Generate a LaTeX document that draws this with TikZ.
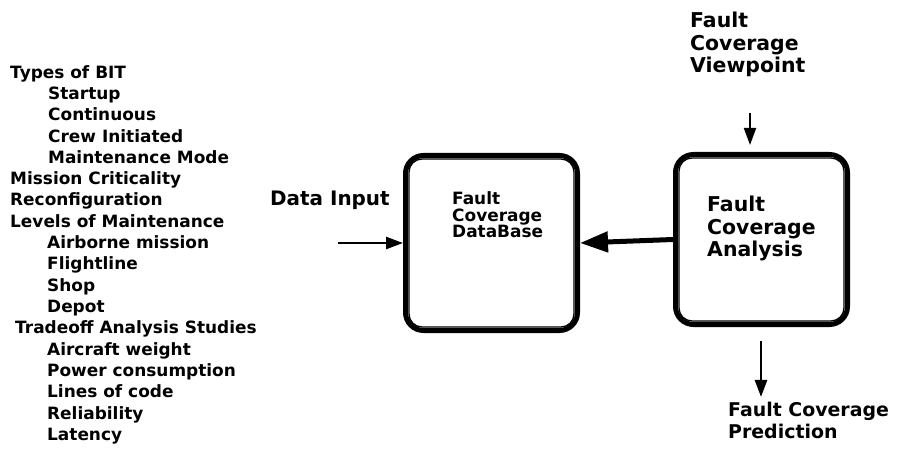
\documentclass[tikz,border=0pt]{standalone}
\usepackage{fontspec}
\setmainfont{DejaVu Sans}
\usetikzlibrary{arrows.meta}
\begin{document}
\begin{tikzpicture}[x=1bp,y=-1bp,
  txt/.style={anchor=north west,inner sep=0pt,align=left},
  listfont/.style={font=\bfseries\fontsize{17}{21.4}\selectfont},
  bigfont/.style={font=\bfseries\fontsize{20.5}{22.5}\selectfont},
  boxfont/.style={font=\bfseries\fontsize{17}{17}\selectfont},
  blk/.style={draw,line width=5bp,rounded corners=18bp,minimum width=172bp,inner sep=0pt},
  arr/.style={line width=2.5bp,-{Triangle[length=17bp,width=12bp]}},
  bigarr/.style={line width=5bp,-{Triangle[length=28bp,width=20bp]}}
]
\useasboundingbox (0,0) rectangle (897,471);
% list
\node[txt,listfont] (list) at (10,65) {Types of BIT\\
\hspace*{38bp}Startup\\
\hspace*{38bp}Continuous\\
\hspace*{38bp}Crew Initiated\\
\hspace*{38bp}Maintenance Mode\\
Mission Criticality\\
Reconfiguration\\
Levels of Maintenance\\
\hspace*{37bp}Airborne mission\\
\hspace*{37bp}Flightline\\
\hspace*{37bp}Shop\\
\hspace*{37bp}Depot\\
\hspace*{5bp}Tradeoff Analysis Studies\\
\hspace*{37bp}Aircraft weight\\
\hspace*{37bp}Power consumption\\
\hspace*{37bp}Lines of code\\
\hspace*{37bp}Reliability\\
\hspace*{37bp}Latency};
% boxes
\node[blk,minimum height=175bp] (db) at (491.5,243) {};
\draw[line width=1.3bp,rounded corners=13bp] ([shift={(6,6)}]db.north west) rectangle ([shift={(-6,-6)}]db.south east);
\node[blk,minimum height=170bp] (an) at (761.5,239.5) {};
\draw[line width=1.3bp,rounded corners=13bp] ([shift={(6,6)}]an.north west) rectangle ([shift={(-6,-6)}]an.south east);
% texts
\node[txt,boxfont] (dbt) at (452,191) {Fault\\Coverage\\DataBase};
\node[txt,bigfont] (ant) at (707,196) {Fault\\Coverage\\Analysis};
\node[txt,font=\bfseries\fontsize{20}{22}\selectfont] (din) at (270,191) {Data Input};
\node[txt,bigfont] (vp) at (690,12) {Fault\\Coverage\\Viewpoint};
\node[txt,font=\bfseries\fontsize{19}{22}\selectfont] (pr) at (728,402) {Fault Coverage\\Prediction};
% connectors
\coordinate (dins) at (338,243);
\draw[arr] (dins) -- (db.west |- dins);
\draw[bigarr] (an.west) -- (db.east);
\coordinate (vps) at (750,113);
\draw[arr,line width=2bp] (vps) -- ([yshift=7bp]an.north -| vps);
\coordinate (pre) at (761,397);
\draw[arr] ([yshift=-14bp]an.south -| pre) -- (pre);
\end{tikzpicture}
\end{document}
